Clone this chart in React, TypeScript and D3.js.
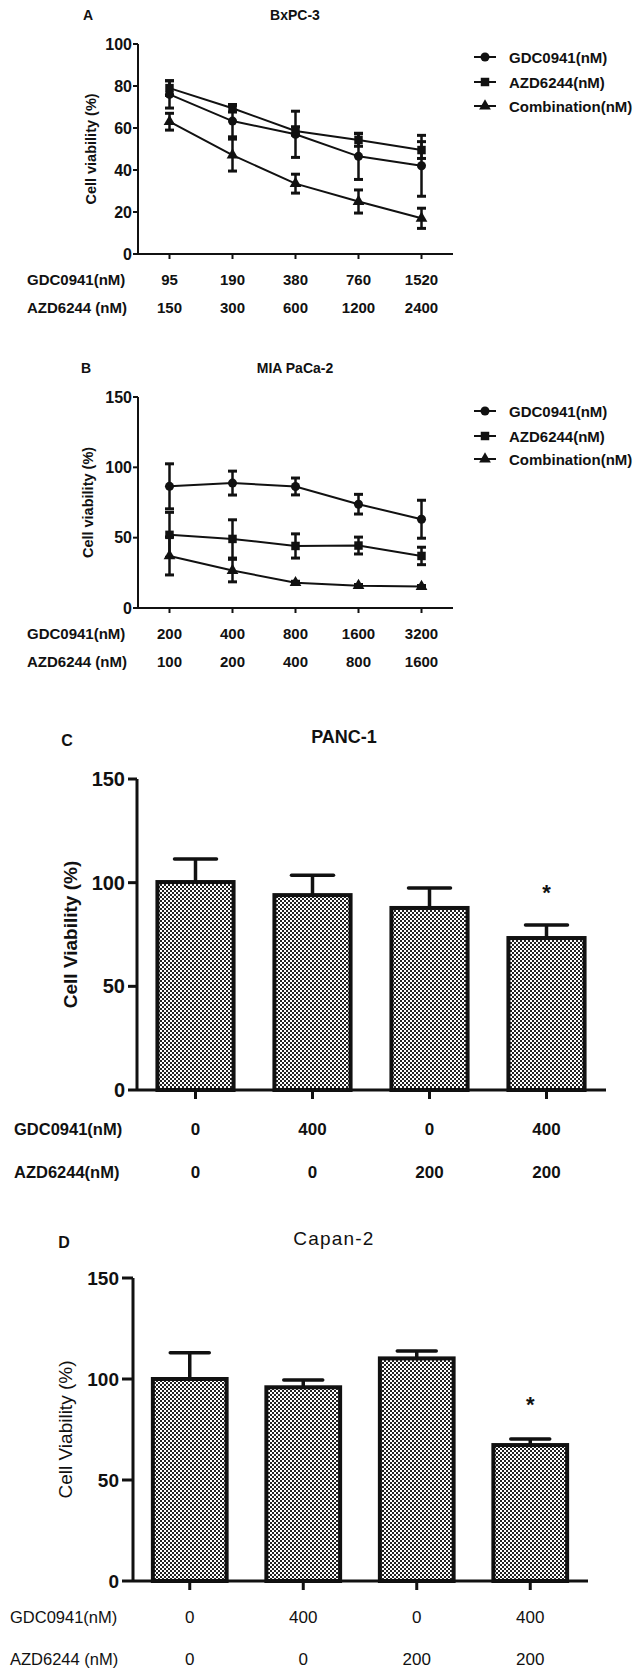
import React from "react";
import * as d3 from "d3";

const FONT = "'Liberation Sans', Arial, Helvetica, sans-serif";

// legend names for the two line panels
const seriesNames = ["GDC0941(nM)", "AZD6244(nM)", "Combination(nM)"];

// panel A - BxPC-3
const aGdcDose = ["95", "190", "380", "760", "1520"];
const aAzdDose = ["150", "300", "600", "1200", "2400"];
const aGdcMean = [76, 63.3, 57, 46.5, 42];
const aGdcErr = [6.5, 7.5, 11, 11, 14.5];
const aAzdMean = [79, 69.4, 58.6, 54.3, 49.5];
const aAzdErr = [3.5, 1.8, 2, 3, 4];
const aCombMean = [63, 47.1, 33.5, 25, 17];
const aCombErr = [4, 7.6, 4.5, 5.5, 4.8];
const aTicks = [0, 20, 40, 60, 80, 100];

// panel B - MIA PaCa-2
const bGdcDose = ["200", "400", "800", "1600", "3200"];
const bAzdDose = ["100", "200", "400", "800", "1600"];
const bGdcMean = [86.5, 88.8, 86.4, 73.8, 63.1];
const bGdcErr = [16, 8.5, 6, 7, 13.5];
const bAzdMean = [52, 49.1, 44.1, 44.4, 37];
const bAzdErr = [16, 13.6, 8.6, 6, 6.2];
const bCombMean = [37, 26.6, 18, 15.9, 15.2];
const bCombErr = [13.5, 8, 1, 0.8, 0.8];
const bTicks = [0, 50, 100, 150];

// panels C and D - bar charts
const barGdcDose = ["0", "400", "0", "400"];
const barAzdDose = ["0", "0", "200", "200"];
const barTicks = [0, 50, 100, 150];
const cMean = [100.3, 94, 87.8, 73.3];
const cErr = [11.1, 9.6, 9.6, 6.3];
const cStar = [false, false, false, true];
const dMean = [100, 95.9, 110.2, 67.3];
const dErr = [13, 3.6, 3.7, 3];
const dStar = [false, false, false, true];

const symbols = [d3.symbolCircle, d3.symbolSquare, d3.symbolTriangle];
const symbolSizes = [64, 72, 60];

function LinePanel(props) {
  const { p } = props;
  const x = d3
    .scalePoint()
    .domain(p.gdcDose.map((d, i) => i))
    .range([p.x0, p.x1])
    .padding(0.5);
  const y = d3.scaleLinear().domain([0, p.ymax]).range([p.y0, p.yTop]);
  const line = d3
    .line()
    .x((d, i) => x(i))
    .y((d) => y(d));

  return (
    <g fontFamily={FONT} fill="#111">
      <text x={p.letterX} y={p.titleY} fontSize={14} fontWeight="bold" dominantBaseline="central" textAnchor="middle">
        {p.letter}
      </text>
      <text x={295} y={p.titleY} fontSize={14} fontWeight="bold" dominantBaseline="central" textAnchor="middle">
        {p.title}
      </text>

      {/* y axis */}
      <line x1={p.x0} x2={p.x0} y1={p.yTop} y2={p.y0} stroke="#111" strokeWidth={2} />
      {p.ticks.map((t) => (
        <g key={t}>
          <line x1={p.x0 - 5} x2={p.x0} y1={y(t)} y2={y(t)} stroke="#111" strokeWidth={2} />
          <text x={p.x0 - 6} y={y(t)} fontSize={16} fontWeight="bold" textAnchor="end" dominantBaseline="central">
            {t}
          </text>
        </g>
      ))}
      <text
        transform={`translate(${p.labelX},${(p.y0 + p.yTop) / 2}) rotate(-90)`}
        fontSize={14.5}
        fontWeight="bold"
        textAnchor="middle"
        dominantBaseline="central"
      >
        Cell viability (%)
      </text>

      {/* x axis */}
      <line x1={p.x0} x2={p.x1} y1={p.y0} y2={p.y0} stroke="#111" strokeWidth={2} />
      {p.gdcDose.map((d, i) => (
        <g key={i}>
          <line x1={x(i)} x2={x(i)} y1={p.y0} y2={p.y0 + 5} stroke="#111" strokeWidth={2} />
          <text x={x(i)} y={p.row1} fontSize={15} fontWeight="bold" textAnchor="middle" dominantBaseline="central">
            {d}
          </text>
          <text x={x(i)} y={p.row2} fontSize={15} fontWeight="bold" textAnchor="middle" dominantBaseline="central">
            {p.azdDose[i]}
          </text>
        </g>
      ))}
      <text x={27} y={p.row1} fontSize={15} fontWeight="bold" dominantBaseline="central">
        GDC0941(nM)
      </text>
      <text x={27} y={p.row2} fontSize={15} fontWeight="bold" dominantBaseline="central">
        AZD6244 (nM)
      </text>

      {/* error bars */}
      {p.series.map((s, si) =>
        s.mean.map((m, i) => (
          <g key={`e${si}-${i}`} stroke="#111">
            <line x1={x(i)} x2={x(i)} y1={y(m - s.err[i])} y2={y(m + s.err[i])} strokeWidth={2.5} />
            <line x1={x(i) - 4.5} x2={x(i) + 4.5} y1={y(m - s.err[i])} y2={y(m - s.err[i])} strokeWidth={3} />
            <line x1={x(i) - 4.5} x2={x(i) + 4.5} y1={y(m + s.err[i])} y2={y(m + s.err[i])} strokeWidth={3} />
          </g>
        ))
      )}

      {/* lines and markers */}
      {p.series.map((s, si) => (
        <g key={`s${si}`}>
          <path d={line(s.mean)} fill="none" stroke="#111" strokeWidth={2} />
          {s.mean.map((m, i) => (
            <path
              key={i}
              transform={`translate(${x(i)},${y(m)})`}
              d={d3.symbol(symbols[si], symbolSizes[si])()}
              fill="#111"
            />
          ))}
        </g>
      ))}

      {/* legend */}
      {seriesNames.map((name, si) => (
        <g key={name} transform={`translate(0,${p.legendY[si]})`}>
          <line x1={474} x2={496} y1={0} y2={0} stroke="#111" strokeWidth={2} />
          <path transform="translate(485,0)" d={d3.symbol(symbols[si], symbolSizes[si])()} fill="#111" />
          <text x={509} y={0} fontSize={15} fontWeight="bold" dominantBaseline="central">
            {name}
          </text>
        </g>
      ))}
    </g>
  );
}

function BarPanel(props) {
  const { p } = props;
  const x = d3
    .scaleBand()
    .domain(p.mean.map((d, i) => i))
    .range([p.x0, p.x1])
    .paddingInner(0.315)
    .paddingOuter(0.1575);
  const y = d3.scaleLinear().domain([0, 150]).range([p.y0, p.yTop]);
  const bw = x.bandwidth();

  return (
    <g fontFamily={FONT} fill="#111">
      <text x={p.letterX} y={p.letterY} fontSize={16} fontWeight="bold" textAnchor="middle" dominantBaseline="central">
        {p.letter}
      </text>
      <text
        x={p.titleX}
        y={p.titleY}
        fontSize={p.titleFont}
        fontWeight={p.titleWeight}
        letterSpacing={p.titleSpacing}
        textAnchor="middle"
        dominantBaseline="central"
      >
        {p.title}
      </text>

      {/* bars */}
      {p.mean.map((m, i) => (
        <g key={i}>
          <line
            x1={x(i) + bw / 2}
            x2={x(i) + bw / 2}
            y1={y(m)}
            y2={y(m + p.err[i])}
            stroke="#111"
            strokeWidth={3.5}
          />
          <line
            x1={x(i) + bw / 2 - p.cap / 2}
            x2={x(i) + bw / 2 + p.cap / 2}
            y1={y(m + p.err[i])}
            y2={y(m + p.err[i])}
            stroke="#111"
            strokeWidth={3.5}
            strokeLinecap="round"
          />
          <rect
            x={x(i) + 2}
            y={y(m)}
            width={bw - 4}
            height={y(0) - y(m)}
            fill="url(#chk)"
            stroke="#111"
            strokeWidth={4}
          />
          {p.star[i] && (
            <text
              x={x(i) + bw / 2}
              y={y(p.starAt) + 4}
              fontSize={22}
              fontWeight="bold"
              textAnchor="middle"
              dominantBaseline="central"
            >
              *
            </text>
          )}
        </g>
      ))}

      {/* y axis */}
      <line x1={p.x0} x2={p.x0} y1={p.yTop} y2={p.y0} stroke="#111" strokeWidth={3} />
      {barTicks.map((t) => (
        <g key={t}>
          <line x1={p.x0 - p.tickLen} x2={p.x0} y1={y(t)} y2={y(t)} stroke="#111" strokeWidth={3} />
          <text
            x={p.x0 - p.tickLen - 3}
            y={y(t)}
            fontSize={p.tickFont}
            fontWeight="bold"
            textAnchor="end"
            dominantBaseline="central"
          >
            {t}
          </text>
        </g>
      ))}
      <text
        transform={`translate(${p.labelX},${(p.y0 + p.yTop) / 2}) rotate(-90)`}
        fontSize={19}
        fontWeight={p.labelWeight}
        textAnchor="middle"
        dominantBaseline="central"
      >
        Cell Viability (%)
      </text>

      {/* x axis */}
      <line x1={p.x0} x2={p.x1 + 1} y1={p.y0} y2={p.y0} stroke="#111" strokeWidth={3} />
      {p.mean.map((m, i) => (
        <g key={`t${i}`}>
          <line
            x1={x(i) + bw / 2}
            x2={x(i) + bw / 2}
            y1={p.y0}
            y2={p.y0 + 9}
            stroke="#111"
            strokeWidth={3}
          />
          <text
            x={x(i) + bw / 2}
            y={p.row1}
            fontSize={17}
            fontWeight={p.rowWeight}
            textAnchor="middle"
            dominantBaseline="central"
          >
            {barGdcDose[i]}
          </text>
          <text
            x={x(i) + bw / 2}
            y={p.row2}
            fontSize={17}
            fontWeight={p.rowWeight}
            textAnchor="middle"
            dominantBaseline="central"
          >
            {barAzdDose[i]}
          </text>
        </g>
      ))}
      <text x={p.rowX} y={p.row1} fontSize={16.5} fontWeight={p.rowWeight} dominantBaseline="central">
        GDC0941(nM)
      </text>
      <text x={p.rowX} y={p.row2} fontSize={16.5} fontWeight={p.rowWeight} dominantBaseline="central">
        {p.azdLabel}
      </text>
    </g>
  );
}

export default function App() {
  const panelA = {
    letter: "A",
    title: "BxPC-3",
    letterX: 88,
    titleY: 15,
    x0: 138,
    x1: 453,
    yTop: 44,
    y0: 254,
    ymax: 100,
    ticks: aTicks,
    labelX: 91,
    row1: 279,
    row2: 307,
    legendY: [57, 82, 106],
    gdcDose: aGdcDose,
    azdDose: aAzdDose,
    series: [
      { mean: aGdcMean, err: aGdcErr },
      { mean: aAzdMean, err: aAzdErr },
      { mean: aCombMean, err: aCombErr },
    ],
  };
  const panelB = {
    letter: "B",
    title: "MIA PaCa-2",
    letterX: 86,
    titleY: 368,
    x0: 138,
    x1: 453,
    yTop: 397,
    y0: 608,
    ymax: 150,
    ticks: bTicks,
    labelX: 88,
    row1: 633,
    row2: 661,
    legendY: [411, 436, 459],
    gdcDose: bGdcDose,
    azdDose: bAzdDose,
    series: [
      { mean: bGdcMean, err: bGdcErr },
      { mean: bAzdMean, err: bAzdErr },
      { mean: bCombMean, err: bCombErr },
    ],
  };
  const panelC = {
    letter: "C",
    title: "PANC-1",
    letterX: 67,
    letterY: 740,
    titleX: 344,
    titleY: 737,
    titleFont: 18,
    titleWeight: "bold",
    titleSpacing: 0,
    x0: 137,
    x1: 605,
    yTop: 779,
    y0: 1090,
    tickLen: 9,
    tickFont: 20,
    cap: 42,
    labelX: 70,
    labelWeight: "bold",
    rowWeight: "bold",
    rowX: 14,
    row1: 1129,
    row2: 1172,
    azdLabel: "AZD6244(nM)",
    mean: cMean,
    err: cErr,
    star: cStar,
    starAt: 97.4,
  };
  const panelD = {
    letter: "D",
    title: "Capan-2",
    letterX: 64,
    letterY: 1242,
    titleX: 334,
    titleY: 1238,
    titleFont: 19,
    titleWeight: "normal",
    titleSpacing: 1.2,
    x0: 133,
    x1: 587,
    yTop: 1278,
    y0: 1581,
    tickLen: 11,
    tickFont: 19,
    cap: 39,
    labelX: 65,
    labelWeight: "normal",
    rowWeight: "normal",
    rowX: 10,
    row1: 1617,
    row2: 1659,
    azdLabel: "AZD6244 (nM)",
    mean: dMean,
    err: dErr,
    star: dStar,
    starAt: 89.6,
  };

  return (
    <svg
      width={641}
      height={1675}
      style={{ position: "absolute", left: 0, top: 0, background: "#fff" }}
    >
      <defs>
        <pattern id="chk" width="4" height="4" patternUnits="userSpaceOnUse">
          <rect width="4" height="4" fill="#fff" />
          <rect width="2" height="2" fill="#222" />
          <rect x="2" y="2" width="2" height="2" fill="#222" />
        </pattern>
      </defs>
      <rect width={641} height={1675} fill="#fff" />
      <LinePanel p={panelA} />
      <LinePanel p={panelB} />
      <BarPanel p={panelC} />
      <BarPanel p={panelD} />
    </svg>
  );
}
